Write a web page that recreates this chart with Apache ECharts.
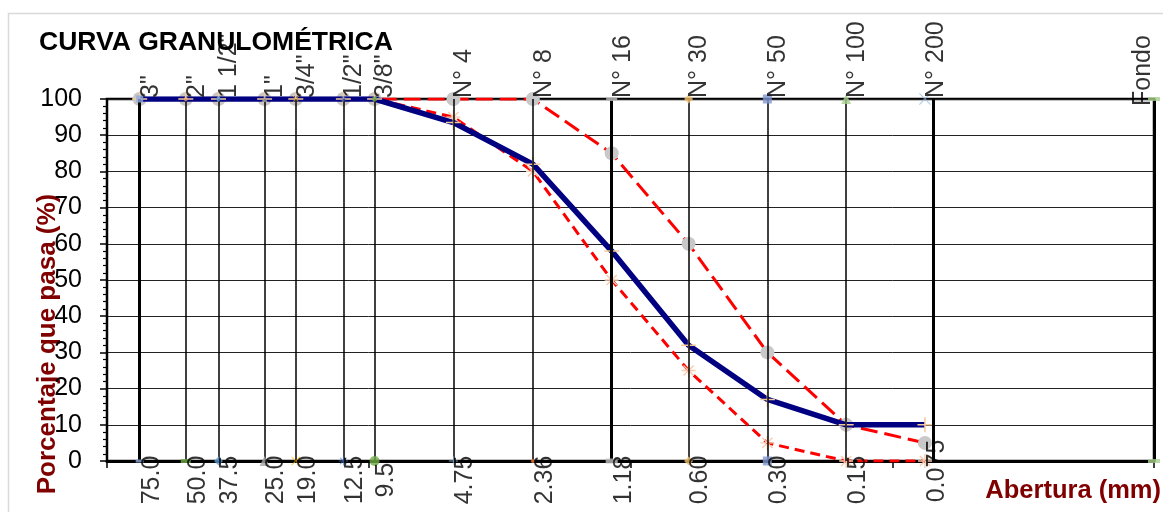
<!DOCTYPE html>
<html>
<head>
<meta charset="utf-8">
<script src="https://cdn.jsdelivr.net/npm/echarts@6/dist/echarts.min.js"></script>
<style>
  html, body { margin: 0; padding: 0; background: #fff; }
  #chart { width: 1163px; height: 512px; }
</style>
</head>
<body>
<div id="chart"></div>
<script>
// ---- data ----
const sieveSizes = [75, 50, 37.5, 25, 19, 12.5, 9.5, 4.75, 2.36, 1.18, 0.6, 0.3, 0.15, 0.075, 0.01];
const sieveNames = ['3"', '2"', '1 1/2"', '1"', '3/4"', '1/2"', '3/8"', 'N° 4', 'N° 8', 'N° 16', 'N° 30', 'N° 50', 'N° 100', 'N° 200', 'Fondo'];
const openingLabels = ['75.0', '50.0', '37.5', '25.0', '19.0', '12.5', '9.5', '4.75', '2.36', '1.18', '0.60', '0.30', '0.15', '0.075', ''];
const passing = [100, 100, 100, 100, 100, 100, 100, 93.5, 82, 58, 32, 17, 10, 10];
const upperLimit = [100, 100, 100, 100, 100, 100, 100, 100, 100, 85, 60, 30, 10, 5];
const lowerLimit = [100, 100, 100, 100, 100, 100, 100, 95, 80, 50, 25, 5, 0, 0];
const yTicks = [0, 10, 20, 30, 40, 50, 60, 70, 80, 90, 100];

// ---- styles ----
const FONT = 'Liberation Sans, Arial, sans-serif';
const plusPath = 'path://M-1,-10 L1,-10 L1,10 L-1,10 Z M-10,-1 L10,-1 L10,1 L-10,1 Z';
const xPath = 'path://M-10,-8.6 L-8.6,-10 L10,8.6 L8.6,10 Z M10,-8.6 L8.6,-10 L-10,8.6 L-8.6,10 Z';
const starPath = 'path://M-1,-10 L1,-10 L1,10 L-1,10 Z M-10,-1 L10,-1 L10,1 L-10,1 Z M-8,-6.6 L-6.6,-8 L8,6.6 L6.6,8 Z M8,-6.6 L6.6,-8 L-8,6.6 L-6.6,8 Z';
const dash = 'rect';
const hidden = { symbol: 'circle', symbolSize: 1, color: 'rgba(0,0,0,0)' };
const thickLines = [75, 1.18, 0.075, 0.01];

const topMarkers = [
  { symbol: 'rect', symbolSize: 7, color: '#8faadc' },
  { symbol: 'circle', symbolSize: 4, color: '#f4b183' },
  { symbol: 'diamond', symbolSize: 6, color: '#5b9bd5' },
  { symbol: 'triangle', symbolSize: 6, color: '#a5a5a5' },
  { symbol: xPath, symbolSize: 6, color: '#ffc000' },
  { symbol: starPath, symbolSize: 6, color: '#4472c4' },
  { symbol: 'circle', symbolSize: 5, color: '#70ad47' },
  hidden,
  hidden,
  { symbol: dash, symbolSize: [11, 4], color: '#bfbfbf' },
  { symbol: 'diamond', symbolSize: 9, color: '#f4c06a' },
  { symbol: 'rect', symbolSize: 9, color: '#7f96d0' },
  { symbol: 'triangle', symbolSize: 10, color: '#a9d18e' },
  { symbol: xPath, symbolSize: 12, color: '#9dc3e6' },
  { symbol: dash, symbolSize: [12, 4], color: '#a9d18e' }
];
const bottomMarkers = [
  { symbol: dash, symbolSize: [8, 3], color: '#8faadc' },
  { symbol: dash, symbolSize: [10, 4], color: '#70ad47' },
  { symbol: 'diamond', symbolSize: 9, color: '#5b9bd5' },
  { symbol: 'triangle', symbolSize: 10, color: '#a5a5a5' },
  { symbol: xPath, symbolSize: 9, color: '#ffc000' },
  { symbol: starPath, symbolSize: 9, color: '#4472c4' },
  { symbol: 'circle', symbolSize: 10, color: '#70ad47' },
  { symbol: plusPath, symbolSize: 9, color: '#9dc3e6' },
  { symbol: 'circle', symbolSize: 4, color: '#ed7d31' },
  { symbol: dash, symbolSize: [12, 5], color: '#bfbfbf' },
  { symbol: 'diamond', symbolSize: 9, color: '#f4c06a' },
  { symbol: 'rect', symbolSize: 9, color: '#7f96d0' },
  hidden,
  hidden,
  { symbol: dash, symbolSize: [12, 4], color: '#a9d18e' }
];

const pairs = (vals) => vals.map((v, i) => [sieveSizes[i], v]);

const chart = echarts.init(document.getElementById('chart'), null, { renderer: 'canvas' });

const rotLabel = {
  show: true,
  rotate: 90,
  position: 'inside',
  fontFamily: FONT,
  fontSize: 25,
  color: '#000'
};

const option = {
  animation: false,
  backgroundColor: '#fff',
  title: {
    text: 'CURVA GRANULOMÉTRICA',
    left: 39,
    top: 29,
    padding: 0,
    textStyle: { fontFamily: FONT, fontSize: 26.5, fontWeight: 'bold', color: '#000' }
  },
  graphic: [
    { type: 'rect', z: -10, shape: { x: 8.5, y: 13.5, width: 1170, height: 520 },
      style: { fill: 'none', stroke: '#d9d9d9', lineWidth: 1.5 } },
    { type: 'text', x: 48, y: 344, rotation: Math.PI / 2,
      style: { text: 'Porcentaje que pasa (%)', fill: '#800000', font: 'bold 26px ' + FONT,
               textAlign: 'center', textVerticalAlign: 'middle' } },
    { type: 'text', x: 1161, y: 491,
      style: { text: 'Abertura (mm)', fill: '#800000', font: 'bold 25.5px ' + FONT,
               textAlign: 'right', textVerticalAlign: 'middle' } }
  ],
  grid: {
    left: 107, right: 9, top: 99, bottom: 51,
    show: true, borderColor: '#000', borderWidth: 2.5, backgroundColor: 'transparent'
  },
  xAxis: {
    type: 'log', logBase: 10, min: 0.01, max: 100, inverse: true,
    axisLine: { show: true, onZero: false, lineStyle: { color: '#000', width: 3 } },
    axisTick: { show: true, inside: false, length: 7, lineStyle: { color: '#000', width: 1.5 } },
    axisLabel: { show: false },
    splitLine: { show: false },
    minorTick: { show: false }
  },
  yAxis: {
    type: 'value', min: yTicks[0], max: yTicks[yTicks.length - 1], interval: 10,
    axisLine: { show: true, lineStyle: { color: '#000', width: 2 } },
    axisTick: { show: true, inside: false, length: 7, lineStyle: { color: '#000', width: 1.5 } },
    minorTick: { show: true, splitNumber: 5, length: 4, lineStyle: { color: '#000', width: 1.2 } },
    axisLabel: { show: true, margin: 25, fontFamily: FONT, fontSize: 25, color: '#000' },
    splitLine: { show: true, lineStyle: { color: '#222', width: 1 } }
  },
  series: [
    {
      name: 'guides', type: 'scatter', data: [], z: 2, silent: true,
      markLine: {
        silent: true, symbol: 'none', animation: false,
        label: { show: false },
        emphasis: { disabled: true },
        data: sieveSizes.map((s) => ({
          xAxis: s,
          lineStyle: { type: 'solid', color: '#000',
                       width: thickLines.includes(s) ? 3 : 1.5 }
        }))
      }
    },
    {
      name: 'Límite inferior', type: 'line', z: 3, data: pairs(lowerLimit),
      lineStyle: { color: '#ff0000', width: 3, type: [10, 6] },
      symbol: starPath, symbolSize: 14, itemStyle: { color: '#f8cbad' },
      silent: true
    },
    {
      name: 'Límite superior', type: 'line', z: 3, data: pairs(upperLimit),
      lineStyle: { color: '#ff0000', width: 3, type: [17, 7] },
      symbol: 'circle', symbolSize: 14, itemStyle: { color: '#c8c8c8' },
      silent: true
    },
    {
      name: 'Curva', type: 'line', z: 4, data: pairs(passing),
      lineStyle: { color: '#000080', width: 5.5 },
      symbol: plusPath, symbolSize: 15, itemStyle: { color: '#f4c99b' },
      silent: true
    },
    {
      name: 'tamices', type: 'scatter', z: 6, silent: true,
      data: sieveSizes.map((s, i) => ({
        value: [s, 100],
        symbol: topMarkers[i].symbol,
        symbolSize: topMarkers[i].symbolSize,
        itemStyle: { color: topMarkers[i].color },
        label: i === 14 ? { offset: [-7, -11] } : undefined
      })),
      label: Object.assign({}, rotLabel, {
        align: 'left', verticalAlign: 'middle', offset: [1, 11],
        formatter: (p) => sieveNames[p.dataIndex]
      })
    },
    {
      name: 'aberturas', type: 'scatter', z: 6, silent: true,
      data: sieveSizes.map((s, i) => ({
        value: [s, 0],
        symbol: bottomMarkers[i].symbol,
        symbolSize: bottomMarkers[i].symbolSize,
        itemStyle: { color: bottomMarkers[i].color },
        label: i === 13 ? { offset: [-10, 12] } : undefined
      })),
      label: Object.assign({}, rotLabel, {
        align: 'center', verticalAlign: 'middle', offset: [-19, 12],
        formatter: (p) => openingLabels[p.dataIndex]
      })
    }
  ]
};
chart.setOption(option);
</script>
</body>
</html>
